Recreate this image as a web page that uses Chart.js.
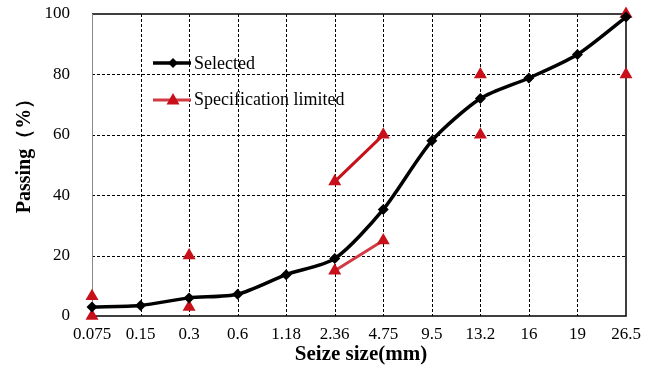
<!DOCTYPE html>
<html><head><meta charset="utf-8">
<script src="https://cdn.jsdelivr.net/npm/chart.js@4"></script>
<style>html,body{margin:0;padding:0;background:#fff}#wrap{width:654px;height:375px}</style>
</head><body><div id="wrap"><canvas id="c" width="654" height="375"></canvas></div>
<script>
const sieveSizes = ['0.075','0.15','0.3','0.6','1.18','2.36','4.75','9.5','13.2','16','19','26.5'];
const selectedPassing = [3, 3.5, 6, 7.2, 13.7, 19, 35.3, 58, 72, 78.8, 86.6, 99];
const specUpper = [6.5, null, 20, null, null, 44.5, 60, null, 80, null, null, 100];
const specLower = [0, null, 3, null, null, 15, 25, null, 60, null, null, 80];
const yTicks = [0, 20, 40, 60, 80, 100];

const RED = '#c8101a';
const RED_LIGHT = '#d23a44';
const SERIF = '"Liberation Serif", "Times New Roman", serif';

const framePlugin = {
  id: 'frame',
  beforeDatasetsDraw(chart) {
    const {ctx, chartArea: a, scales: {x, y}} = chart;
    ctx.save();
    // dashed grid
    ctx.strokeStyle = '#000'; ctx.lineWidth = 1; ctx.setLineDash([3, 2]);
    for (let i = 1; i < sieveSizes.length - 1; i++) {
      const px = Math.round(x.getPixelForValue(i)) + 0.5;
      ctx.beginPath(); ctx.moveTo(px, a.top); ctx.lineTo(px, a.bottom); ctx.stroke();
    }
    for (let j = 1; j < yTicks.length - 1; j++) {
      const py = Math.round(y.getPixelForValue(yTicks[j])) + 0.5;
      ctx.beginPath(); ctx.moveTo(a.left, py); ctx.lineTo(a.right, py); ctx.stroke();
    }
    ctx.setLineDash([]);
    ctx.strokeStyle = '#000'; ctx.lineWidth = 1.5;
    ctx.beginPath();
    ctx.moveTo(a.left, a.top); ctx.lineTo(a.right, a.top); ctx.lineTo(a.right, a.bottom); ctx.lineTo(a.left, a.bottom);
    ctx.stroke();
    ctx.strokeStyle = '#888'; ctx.lineWidth = 1;
    ctx.beginPath(); ctx.moveTo(a.left + 0.5, a.top); ctx.lineTo(a.left + 0.5, a.bottom); ctx.stroke();
    ctx.restore();
  },
  afterDraw(chart) {
    const {ctx} = chart;
    ctx.save();
    ctx.font = '18px ' + SERIF; ctx.fillStyle = '#000'; ctx.textBaseline = 'middle';
    // Selected
    ctx.strokeStyle = '#000'; ctx.lineWidth = 3.5;
    ctx.beginPath(); ctx.moveTo(153, 63); ctx.lineTo(191, 63); ctx.stroke();
    ctx.beginPath(); ctx.moveTo(173, 58); ctx.lineTo(178, 63); ctx.lineTo(173, 68); ctx.lineTo(168, 63); ctx.closePath(); ctx.fillStyle = '#000'; ctx.fill();
    ctx.fillText('Selected', 194, 64);
    // Spec
    ctx.strokeStyle = RED_LIGHT; ctx.lineWidth = 3;
    ctx.beginPath(); ctx.moveTo(153, 100); ctx.lineTo(191, 100); ctx.stroke();
    ctx.fillStyle = RED;
    ctx.beginPath(); ctx.moveTo(173, 93); ctx.lineTo(179.5, 104.5); ctx.lineTo(166.5, 104.5); ctx.closePath(); ctx.fill();
    ctx.fillStyle = '#000';
    ctx.fillText('Specification limited', 194, 100);
    // Axis titles
    ctx.font = 'bold 21px ' + SERIF; ctx.textAlign = 'center';
    ctx.fillText('Seize size(mm)', 361, 355);
    ctx.translate(25, 151); ctx.rotate(-Math.PI / 2);
    ctx.font = 'bold 20px ' + SERIF;
    ctx.fillText('Passing（%）', 0, 0);
    ctx.restore();
  }
};

new Chart(document.getElementById('c'), {
  type: 'line',
  data: {
    labels: sieveSizes,
    datasets: [
      { label: 'Specification limited', data: specUpper, borderColor: RED, backgroundColor: RED, borderWidth: 3,
        pointStyle: 'triangle', pointRadius: 7.5, pointBorderWidth: 0, spanGaps: false, order: 2 },
      { label: 'Specification limited lower', data: specLower, borderColor: RED_LIGHT, backgroundColor: RED, borderWidth: 3,
        pointStyle: 'triangle', pointRadius: 7.5, pointBorderWidth: 0, spanGaps: false, order: 3 },
      { label: 'Selected', data: selectedPassing, borderColor: '#000', backgroundColor: '#000', borderWidth: 3.5,
        pointStyle: 'rectRot', pointRadius: 5.5, pointBorderWidth: 0, tension: 0.25, order: 1 }
    ]
  },
  options: {
    responsive: false, animation: false, devicePixelRatio: 1,
    layout: { padding: { left: 0, right: 28, top: 14, bottom: 0 } },
    plugins: { legend: { display: false }, tooltip: { enabled: false } },
    clip: false,
    scales: {
      x: {
        offset: false,
        grid: { display: false, drawTicks: false },
        border: { display: false },
        ticks: { padding: 8, color: '#000', font: { family: SERIF, size: 17 }, maxRotation: 0, autoSkip: false },
        afterFit(s) { s.height = 59; s.paddingLeft = 0; s.paddingRight = 0; }
      },
      y: {
        min: 0, max: 100,
        afterBuildTicks(s) { s.ticks = yTicks.map(v => ({ value: v })); },
        grid: { display: false, drawTicks: false },
        border: { display: false },
        ticks: { padding: 22, color: '#000', font: { family: SERIF, size: 17 } },
        afterFit(s) { s.width = 92; s.paddingTop = 0; s.paddingBottom = 0; }
      }
    }
  },
  plugins: [framePlugin]
});
</script></body></html>
